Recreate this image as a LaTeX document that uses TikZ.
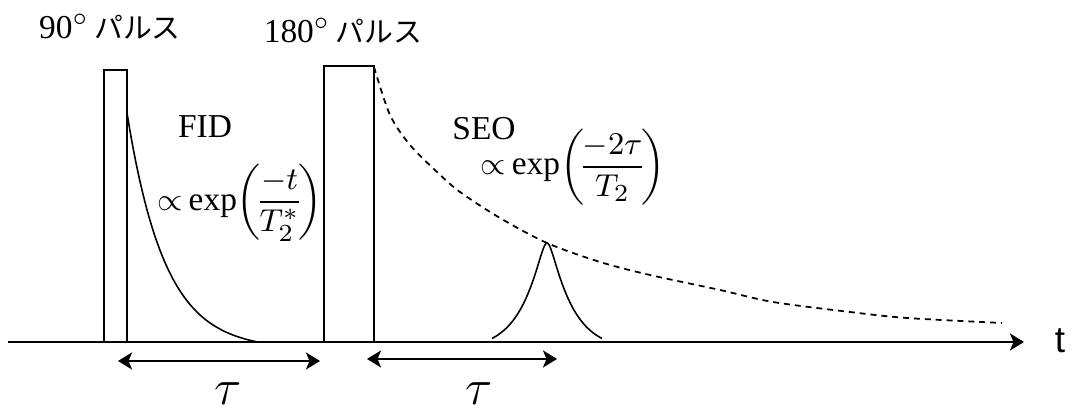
\documentclass[tikz,border=0pt]{standalone}
\usepackage{fontspec}
\usepackage{amsmath}
\setmainfont{Liberation Serif}
\newfontfamily\jpfont{Noto Sans CJK JP}
\newfontfamily\axisfont{Liberation Sans}
\usetikzlibrary{arrows.meta}

\begin{document}
\begin{tikzpicture}[x=0.01cm, y=-0.01cm,
  lbl/.style={font=\fontsize{9.5}{11}\selectfont, inner sep=0pt},
  pulse/.style={line width=0.45pt},
  sig/.style={line width=0.45pt},
  env/.style={line width=0.5pt, dash pattern=on 1.7pt off 1.4pt},
  arrow/.style={-{Stealth[length=1.4mm,width=1.7mm,inset=0.35mm]}, line width=0.6pt},
  span/.style={{Stealth[length=1.4mm,width=1.7mm,inset=0.35mm]}-{Stealth[length=1.4mm,width=1.7mm,inset=0.35mm]}, line width=0.6pt}
]
\useasboundingbox (0,0) rectangle (1072,410);
\coordinate (o) at (8,342);
\coordinate (tend) at (1024,342);
\coordinate (a90) at (104,342);
\coordinate (b90) at (127,70);
\coordinate (a180) at (324,342);
\coordinate (b180) at (374,66);
\coordinate (s1a) at (118,361);
\coordinate (s1b) at (320,361);
\coordinate (s2a) at (367,359);
\coordinate (s2b) at (557,359);
\draw[arrow] (o) -- (tend);
\node[inner sep=0pt, font=\axisfont\fontsize{10.5}{12}\selectfont] (t) at (1060,341) {t};
\draw[pulse] (a90) |- (b90) -- (b90 |- a90);
\draw[pulse] (a180) |- (b180) -- (b180 |- a180);
\draw[sig] plot[domain=127:258, samples=60] (\x, {342 - 229*(exp(-(\x-127)/38)-0.032)/0.968});
\draw[sig] plot[domain=-55:55, samples=81] ({547+\x}, {342 - 99*(exp(-(sqrt(\x*\x+25)-5)/23)-0.08)/0.92});
\draw[env] plot[smooth] coordinates {(374,67) (390,115) (410,145) (437,172) (460,192) (500,218) (547,243) (600,262) (650,275) (720,290) (773,302) (850,312) (907,318) (1002,323)};
\draw[span] (s1a) -- (s1b);
\draw[span] (s2a) -- (s2b);
\node[lbl, anchor=north, font=\fontsize{14}{16}\selectfont] (tau1) at (228,382) {$\tau$};
\node[lbl, anchor=north, font=\fontsize{14}{16}\selectfont] (tau2) at (479,382) {$\tau$};
\node[lbl, anchor=base] (p90) at (110,39) {90\textsuperscript{$\circ$}\,{\jpfont\fontsize{8.2}{10}\selectfont パルス}};
\node[lbl, anchor=base] (p180) at (343,43) {180\textsuperscript{$\circ$}\,{\jpfont\fontsize{8.2}{10}\selectfont パルス}};
\node[lbl, anchor=base] (fid) at (205,138) {FID};
\node[lbl, anchor=base] (seo) at (484,140) {SEO};
\node[lbl] (fidexp) at (240,203) {$\propto$\,exp$\displaystyle\left(\!\frac{-t}{T_2^{*}}\!\right)$};
\node[lbl] (seoexp) at (573,167) {$\propto$\,exp$\displaystyle\left(\!\frac{-2\tau}{T_2}\!\right)$};
\end{tikzpicture}
\end{document}
